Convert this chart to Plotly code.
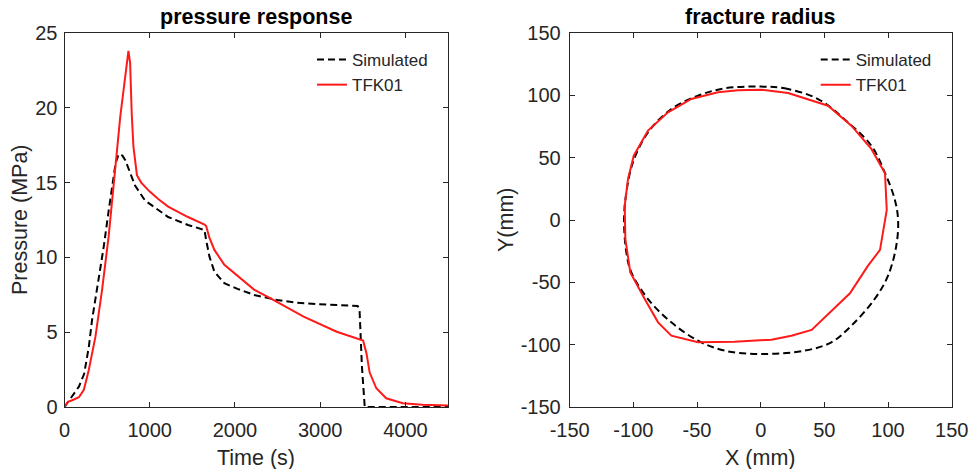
import plotly.graph_objects as go

# ---------------- data ----------------
time_sim = [0, 50, 110, 169, 230, 285, 323, 401, 460, 520, 578, 600, 636, 680, 713, 760, 828, 945, 1100, 1216,
            1449, 1603, 1643, 1662, 1701, 1759, 1876, 2030, 2224, 2496, 2729, 2961, 3194, 3440, 3462, 3490, 3523, 4500]
p_sim = [0, 0.4, 0.92, 1.36, 2.2, 4.0, 5.8, 8.5, 10.7, 13.2, 15.4, 16.3, 16.9, 16.8, 16.5, 15.8, 14.8, 13.8, 13.2, 12.7,
         12.17, 11.9, 11.83, 11.16, 10.05, 9.04, 8.27, 7.9, 7.49, 7.15, 6.97, 6.88, 6.8, 6.75, 6.5, 2.7, 0, 0]

time_tfk = [0, 40, 91, 169, 227, 285, 363, 440, 518, 576, 654, 750, 770, 789, 809, 850, 900, 1000, 1100, 1216,
            1449, 1643, 1662, 1701, 1759, 1876, 2030, 2224, 2418, 2806, 3194, 3465, 3504, 3543, 3581, 3659, 3775,
            3970, 4202, 4500]
p_tfk = [0, 0.35, 0.45, 0.65, 1.15, 2.47, 4.7, 7.8, 11.4, 15.0, 19.4, 23.8, 23.0, 19.6, 17.4, 15.5, 15.0, 14.4, 13.9, 13.4,
         12.7, 12.2, 12.1, 11.3, 10.5, 9.5, 8.75, 7.85, 7.26, 6.04, 5.03, 4.52, 4.45, 3.6, 2.3, 1.25, 0.58,
         0.25, 0.15, 0.1]

x_sim = [0, 18.8, 45, 68.6, 86.9, 97.4, 105.2, 107.9, 106.5, 100, 89.5, 71.2, 55.5, 34.6, 0, -28.3, -49.2, -70.2,
         -88.5, -101.6, -105.5, -107.3, -105.5, -100.3, -88.5, -70.2, -49.2, -28.3, 0]
y_sim = [107, 105.6, 97, 78.3, 59.6, 38.2, 16.8, 0, -20.6, -44.7, -63.4, -84.8, -98.1, -104.8, -107.5, -104.8, -96.8,
         -82.1, -63.4, -42, -26, 0, 22, 46.3, 70.3, 89, 99.7, 105.6, 107]

x_tfk = [-33.5, -17.8, 0.5, 21.5, 52.9, 71.2, 86.9, 97.6, 99, 93.7, 84.3, 70.1, 40, 24.1, 8.4, -20.4, -49.2, -70.2,
         -80.6, -91.1, -102.4, -106.3, -106.8, -104.2, -99.7, -88.5, -72.8, -54.5, -33.5]
y_tfk = [102.4, 104, 104.5, 101.9, 91.7, 75.7, 57, 37.5, 8, -24, -36.6, -58.8, -88.2, -92.8, -96, -97.6, -98.1, -92.8,
         -82.1, -63.4, -42, -15.2, 11.5, 32.9, 51.6, 71.7, 86.4, 97.1, 102.4]

series_names = ["Simulated", "TFK01"]
x1_ticks = [0, 1000, 2000, 3000, 4000]
y1_ticks = [0, 5, 10, 15, 20, 25]
xy2_ticks = [-150, -100, -50, 0, 50, 100, 150]
xy2_labels = ["-150", "-100", "-50", "0", "50", "100", "150"]

# ---------------- style ----------------
FONT = "Arial, Liberation Sans, Helvetica, sans-serif"
AX = "#262626"
W, H = 968, 469
dash = "7px,4px"

fig = go.Figure()
fig.add_trace(go.Scatter(x=time_sim, y=p_sim, mode="lines", name=series_names[0],
                         line=dict(color="black", width=2, dash=dash), xaxis="x", yaxis="y", legend="legend"))
fig.add_trace(go.Scatter(x=time_tfk, y=p_tfk, mode="lines", name=series_names[1],
                         line=dict(color="#ff1a1a", width=2), xaxis="x", yaxis="y", legend="legend"))
fig.add_trace(go.Scatter(x=x_sim, y=y_sim, mode="lines", name=series_names[0], line_shape="spline",
                         line=dict(color="black", width=2, dash=dash), xaxis="x2", yaxis="y2", legend="legend2"))
fig.add_trace(go.Scatter(x=x_tfk, y=y_tfk, mode="lines", name=series_names[1],
                         line=dict(color="#ff1a1a", width=2), xaxis="x2", yaxis="y2", legend="legend2"))

def ax(dom, rng, ticks, anchor, standoff, labels=None):
    d = dict(domain=dom, range=rng, tickvals=ticks, showline=True, linecolor=AX, linewidth=1,
             mirror="ticks", ticks="inside", ticklen=5, tickcolor=AX, showgrid=False, zeroline=False,
             tickfont=dict(family=FONT, size=20, color=AX), anchor=anchor, automargin=False,
             ticklabelstandoff=standoff, ticklabeloverflow="allow")
    if labels is not None:
        d["ticktext"] = labels
    return d

y0 = 1 - 407 / H
y1 = 1 - 33 / H
leg_y = 1 - 42 / H
fig.update_layout(
    width=W, height=H, margin=dict(l=0, r=0, t=0, b=0),
    paper_bgcolor="white", plot_bgcolor="white",
    xaxis=ax([64.5 / W, 448 / W], [0, 4500], x1_ticks, "y", 5),
    yaxis=ax([y0, y1], [0, 25], y1_ticks, "x", 2),
    xaxis2=ax([569.7 / W, 951.7 / W], [-150, 150], xy2_ticks, "y2", 5, xy2_labels),
    yaxis2=ax([y0, y1], [-150, 150], xy2_ticks, "x2", 4, xy2_labels),
    showlegend=True,
    legend=dict(x=(448 - 15) / W, y=leg_y, xanchor="right", yanchor="top", bgcolor="rgba(0,0,0,0)",
                font=dict(family=FONT, size=17, color=AX), tracegroupgap=0, itemwidth=30),
    legend2=dict(x=(951.7 - 15) / W, y=leg_y, xanchor="right", yanchor="top", bgcolor="rgba(0,0,0,0)",
                 font=dict(family=FONT, size=17, color=AX), tracegroupgap=0, itemwidth=30),
)

anns = [
    dict(text="<b>pressure response</b>", x=256 / W, y=1 - 17 / H, size=21.5, angle=0),
    dict(text="<b>fracture radius</b>", x=760 / W, y=1 - 17 / H, size=21.5, angle=0),
    dict(text="Time (s)", x=256 / W, y=1 - 458 / H, size=21.5, angle=0),
    dict(text="X (mm)", x=760 / W, y=1 - 458 / H, size=21.5, angle=0),
    dict(text="Pressure (MPa)", x=20 / W, y=1 - 220 / H, size=21.5, angle=-90),
    dict(text="Y(mm)", x=506 / W, y=1 - 220 / H, size=21.5, angle=-90),
]
for a in anns:
    fig.add_annotation(text=a["text"], x=a["x"], y=a["y"], xref="paper", yref="paper", showarrow=False,
                       xanchor="center", yanchor="middle", textangle=a["angle"],
                       font=dict(family=FONT, size=a["size"], color="black" if "<b>" in a["text"] else AX))

fig.write_html("out.html", config={"displayModeBar": False},
               post_script="document.body.style.margin='0';document.body.style.overflow='hidden';")
